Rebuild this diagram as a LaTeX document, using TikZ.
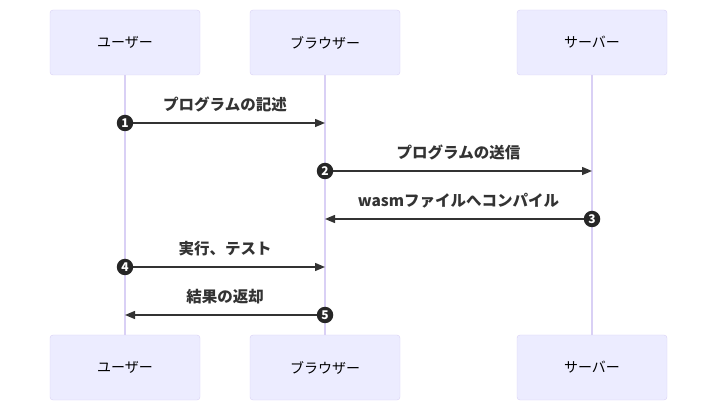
\documentclass[tikz,border=0pt]{standalone}
\usepackage{fontspec}
\setmainfont{Noto Sans CJK JP}
\usetikzlibrary{arrows.meta}
\definecolor{actorfill}{HTML}{ECECFF}
\definecolor{actorline}{HTML}{D9D0F5}
\definecolor{msgline}{HTML}{333333}

\begin{document}
\begin{tikzpicture}[x=1pt, y=-1pt,
    actor/.style={rectangle, draw=actorline, fill=actorfill, rounded corners=3pt, minimum width=150pt, minimum height=65pt, font=\fontsize{14}{16}\selectfont},
    lifeline/.style={draw=actorline, line width=1.3pt},
    arrow/.style={->, >={Triangle[length=10pt,width=8pt]}, line width=1.4pt, draw=msgline},
    msg/.style={font=\fontsize{15.5}{18}\selectfont\bfseries, text=msgline},
    badge/.style={circle, fill=black!85, text=white, inner sep=0pt, minimum size=16.5pt, font=\fontsize{12}{13}\selectfont\bfseries}
]
    \useasboundingbox (0,0) rectangle (717,411);

    % actors, top and bottom
    \node[actor] (userTop) at (125,42.5) {ユーザー};
    \node[actor] (browserTop) at (325,42.5) {ブラウザー};
    \node[actor] (serverTop) at (592,42.5) {サーバー};
    \node[actor] (userBot) at (125,367.5) {ユーザー};
    \node[actor] (browserBot) at (325,367.5) {ブラウザー};
    \node[actor] (serverBot) at (592,367.5) {サーバー};

    \draw[lifeline] (userTop) -- (userBot);
    \draw[lifeline] (browserTop) -- (browserBot);
    \draw[lifeline] (serverTop) -- (serverBot);

    % message end points
    \coordinate (m1s) at (125,123);
    \coordinate (m1e) at (325,123);
    \coordinate (m2s) at (325,171);
    \coordinate (m2e) at (592,171);
    \coordinate (m3s) at (592,219);
    \coordinate (m3e) at (325,219);
    \coordinate (m4s) at (125,267);
    \coordinate (m4e) at (325,267);
    \coordinate (m5s) at (325,315);
    \coordinate (m5e) at (125,315);

    \draw[arrow] (m1s) -- node[msg, above=7pt]{プログラムの記述} (m1e);
    \draw[arrow] (m2s) -- node[msg, above=7pt]{プログラムの送信} (m2e);
    \draw[arrow] (m3s) -- node[msg, above=7pt]{wasmファイルへコンパイル} (m3e);
    \draw[arrow] (m4s) -- node[msg, above=7pt]{実行、テスト} (m4e);
    \draw[arrow] (m5s) -- node[msg, above=7pt]{結果の返却} (m5e);

    \node[badge] (b1) at (m1s) {1};
    \node[badge] (b2) at (m2s) {2};
    \node[badge] (b3) at (m3s) {3};
    \node[badge] (b4) at (m4s) {4};
    \node[badge] (b5) at (m5s) {5};
\end{tikzpicture}
\end{document}
